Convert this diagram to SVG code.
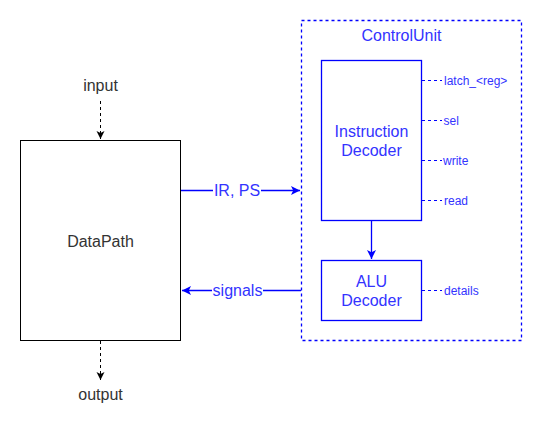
<svg xmlns="http://www.w3.org/2000/svg" width="542" height="431" viewBox="0 0 542 431">
<defs>
<style>
text{font-family:"Liberation Sans",Arial,sans-serif}
.lg{font-size:16px;text-anchor:middle}
.sm{font-size:12px;fill:#3333FF}
.bl{fill:#3333FF}
.k{fill:#333333}
.box{fill:#ffffff;stroke:#000000;stroke-width:1}
.bbox{fill:#ffffff;stroke:#0000FF;stroke-width:1.3}
.cu{fill:none;stroke:#0000FF;stroke-width:1.3;stroke-dasharray:3 3}
.kl{stroke:#000000;stroke-width:1;stroke-dasharray:3 3;fill:none}
.bln{stroke:#0000FF;stroke-width:1.3;fill:none}
.bd{stroke:#0000FF;stroke-width:1;stroke-dasharray:3 3;fill:none}
</style>
<marker id="ak" markerWidth="10" markerHeight="10" refX="8" refY="5" orient="auto" markerUnits="userSpaceOnUse"><path d="M0,1 L8,5 L0,9 L2,5 Z" fill="#000000"/></marker>
<marker id="ab" markerWidth="12" markerHeight="12" refX="9" refY="6" orient="auto" markerUnits="userSpaceOnUse"><path d="M0,1.5 L9,6 L0,10.5 L2.2,6 Z" fill="#0000FF"/></marker>
</defs>
<g id="ControlUnit">
<rect class="cu" x="301.5" y="20.5" width="220" height="320"/>
<text class="lg bl" x="401.5" y="41">ControlUnit</text>
</g>
<g id="DataPath">
<rect class="box" x="20.5" y="140.5" width="160" height="200"/>
<text class="lg k" x="100.5" y="246.5">DataPath</text>
</g>
<g id="InstructionDecoder">
<rect class="bbox" x="321.5" y="60.5" width="100" height="160"/>
<text class="lg bl" x="371.5" y="137">Instruction</text>
<text class="lg bl" x="371.5" y="155.5">Decoder</text>
</g>
<g id="ALUDecoder">
<rect class="bbox" x="321.5" y="260.5" width="100" height="60"/>
<text class="lg bl" x="371.5" y="287">ALU</text>
<text class="lg bl" x="371.5" y="305.5">Decoder</text>
</g>
<g id="connectors">
<path class="kl" d="M100.5,101 L100.5,139" marker-end="url(#ak)"/>
<text class="lg k" x="100.5" y="91">input</text>
<path class="kl" d="M100.5,341 L100.5,380" marker-end="url(#ak)"/>
<text class="lg k" x="100.5" y="400">output</text>
<path class="bln" d="M181,190.5 L300,190.5" marker-end="url(#ab)"/>
<rect x="213" y="181" width="48" height="18" fill="#ffffff"/>
<text class="lg bl" x="237" y="196">IR, PS</text>
<path class="bln" d="M301,290.5 L182,290.5" marker-end="url(#ab)"/>
<rect x="212" y="281" width="51" height="18" fill="#ffffff"/>
<text class="lg bl" x="237.5" y="296">signals</text>
<path class="bln" d="M371.5,221 L371.5,259" marker-end="url(#ab)"/>
<path class="bd" d="M422,80.5 L442,80.5 M422,120.5 L442,120.5 M422,160.5 L442,160.5 M422,200.5 L442,200.5 M422,290.5 L442,290.5"/>
<text class="sm" x="444" y="85">latch_&lt;reg&gt;</text>
<text class="sm" x="443.5" y="125">sel</text>
<text class="sm" x="443" y="165">write</text>
<text class="sm" x="444" y="205">read</text>
<text class="sm" x="444" y="294.5">details</text>
</g>
</svg>
